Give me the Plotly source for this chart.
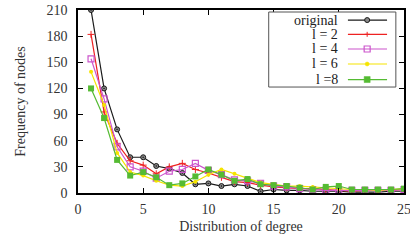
import plotly.graph_objects as go

degree = list(range(1, 26))
original = [210, 120, 73, 41, 41, 31, 28, 23, 10, 11, 8, 10, 8, 2, 4, 3, 3, 2, 2, 2, 1, 1, 1, 2, 2]
l2 = [182, 93, 57, 37, 32, 22, 30, 34, 27, 23, 18, 13, 12, 9, 7, 6, 5, 5, 4, 3, 2, 3, 3, 3, 4]
l4 = [154, 108, 53, 30, 25, 17, 25, 27, 34, 26, 21, 15, 14, 11, 8, 7, 5, 4, 3, 3, 3, 3, 3, 3, 4]
l6 = [139, 101, 46, 24, 20, 14, 9, 8, 13, 21, 27, 22, 17, 12, 10, 8, 8, 7, 6, 5, 4, 4, 3, 4, 5]
l8 = [120, 86, 38, 20, 24, 18, 9, 11, 19, 27, 21, 14, 16, 10, 9, 8, 6, 4, 7, 8, 4, 4, 4, 4, 5]
names = ["original", "l = 2", "l = 4", "l = 6", "l =8"]
colors = ["#1a1a1a", "#ee2222", "#cc55cc", "#f5e400", "#55bb33"]
x_ticks = [0, 5, 10, 15, 20, 25]
y_ticks = [0, 30, 60, 90, 120, 150, 180, 210]

marker_styles = [
    dict(symbol="circle-dot", size=5, color="#888888", line=dict(width=1, color=colors[0])),
    dict(symbol="cross-thin", size=5, color=colors[1], line=dict(width=1, color=colors[1])),
    dict(symbol="square-open", size=6, color=colors[2], line=dict(width=1.2, color=colors[2])),
    dict(symbol="circle", size=4, color=colors[3]),
    dict(symbol="square", size=6, color=colors[4]),
]

fig = go.Figure()
for name, vals, col, mk in zip(names, [original, l2, l4, l6, l8], colors, marker_styles):
    fig.add_trace(go.Scatter(x=degree, y=vals, mode="lines+markers", name=name,
                             line=dict(color=col, width=1.2), marker=mk, showlegend=False,
                             cliponaxis=True))

font = "Liberation Serif"
tf = dict(family=font, size=14, color="#333333")

# custom legend (gnuplot style: text right-aligned, sample to the right)
shapes = [dict(type="rect", xref="paper", yref="paper", x0=0.585, x1=0.975, y0=0.579, y1=0.989,
               line=dict(color="#555555", width=1), fillcolor="white", layer="above")]
annotations = []
row_y = [0.945, 0.867, 0.787, 0.705, 0.620]
for i, (name, col) in enumerate(zip(names, colors)):
    yy = row_y[i]
    annotations.append(dict(text=name, xref="paper", yref="paper", x=0.803, y=yy,
                            xanchor="right", yanchor="middle", showarrow=False,
                            font=dict(family=font, size=14, color="#222222")))
    shapes.append(dict(type="line", xref="paper", yref="paper", x0=0.828, x1=0.948, y0=yy, y1=yy,
                       line=dict(color=col, width=1.2), layer="above"))
    base = dict(xref="paper", yref="paper", xsizemode="pixel", ysizemode="pixel",
                xanchor=0.887, yanchor=yy, layer="above")
    if i == 0:
        shapes.append(dict(base, type="circle", x0=-2.5, x1=2.5, y0=-2.5, y1=2.5,
                           fillcolor="#888888", line=dict(color=col, width=1)))
    elif i == 1:
        shapes.append(dict(base, type="line", x0=-2.5, x1=2.5, y0=0, y1=0, line=dict(color=col, width=1)))
        shapes.append(dict(base, type="line", x0=0, x1=0, y0=-2.5, y1=2.5, line=dict(color=col, width=1)))
    elif i == 2:
        shapes.append(dict(base, type="rect", x0=-3, x1=3, y0=-3, y1=3,
                           fillcolor="rgba(0,0,0,0)", line=dict(color=col, width=1.2)))
    elif i == 3:
        shapes.append(dict(base, type="circle", x0=-2, x1=2, y0=-2, y1=2,
                           fillcolor=col, line=dict(color=col, width=0.5)))
    else:
        shapes.append(dict(base, type="rect", x0=-3, x1=3, y0=-3, y1=3,
                           fillcolor=col, line=dict(color=col, width=0.5)))

fig.update_layout(
    template="none",
    width=410, height=244,
    margin=dict(l=78, r=6, t=10, b=51),
    paper_bgcolor="white", plot_bgcolor="white",
    font=tf,
    showlegend=False,
    shapes=shapes, annotations=annotations,
)
fig.update_xaxes(range=[0, 25], tickvals=x_ticks, ticks="inside", ticklen=5,
                 showline=True, linecolor="black", linewidth=1.5, mirror="ticks",
                 showgrid=False, zeroline=False, tickcolor="black", automargin=False,
                 tickfont=tf, ticklabelstandoff=2, ticklabeloverflow="allow",
                 title=dict(text="Distribution of degree", standoff=6, font=tf))
fig.update_yaxes(range=[0, 210], tickvals=y_ticks, ticks="inside", ticklen=5,
                 showline=True, linecolor="black", linewidth=1.5, mirror="ticks",
                 showgrid=False, zeroline=False, tickcolor="black", automargin=False,
                 tickfont=tf, ticklabelstandoff=6, ticklabeloverflow="allow",
                 title=dict(text="Frequency of nodes", standoff=18, font=tf))
fig.write_html("out.html", config={"displayModeBar": False},
               post_script="document.body.style.margin='0';document.body.style.padding='0';")
